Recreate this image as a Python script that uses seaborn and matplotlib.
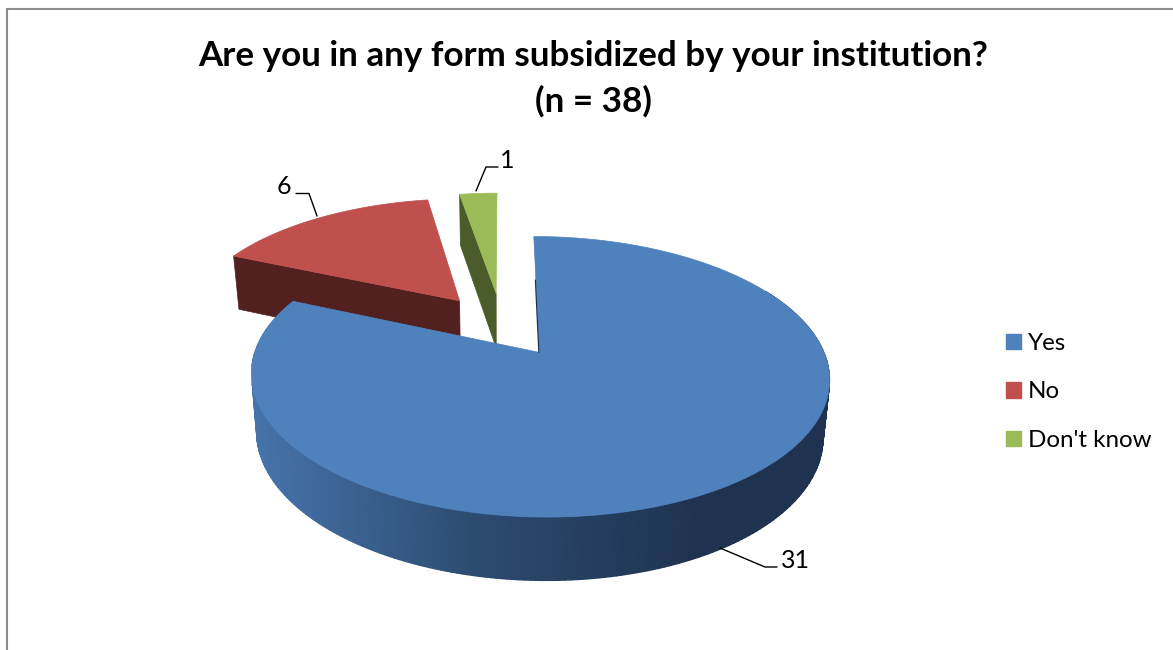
import numpy as np
import seaborn as sns
import matplotlib.pyplot as plt
from matplotlib.patches import Patch

# chart data
labels = ['Yes', 'No', "Don't know"]
values = [31, 6, 1]
explode = [0.24, 0.26, 0.27]
top_colors = ['#4f81bd', '#c0504d', '#9bbb59']
cut_colors = ['#1f3350', '#532020', '#4a5c2a']
title = 'Are you in any form subsidized by your institution?\n(n = 38)'

# projection of the tilted pie onto the page, in pixels
CX, CY = 502, 326
B, A, K = 275, 127, 0.168
A2, H, S = 132, 56, 0.98


def top(x, y):
    d = 1 + K * y
    return CX + B * x / d, CY - A * y / d


def bottom(x, y):
    d = 1 + K * y
    return CX + S * B * x / d, CY + H - A2 * y / d


def wedge_xy(t0, t1, off, n=300):
    '''outline of one wedge, angles are clockwise from 12 o'clock'''
    ts = np.linspace(t0, t1, n)
    dx, dy = off * np.sin((t0 + t1) / 2), off * np.cos((t0 + t1) / 2)
    return ts, dx, dy, dx + np.sin(ts), dy + np.cos(ts)


sns.set_theme(style='white')
plt.rcParams['font.family'] = ['Lato', 'DejaVu Sans']

fig = plt.figure(figsize=(11.73, 6.5), dpi=100)
ax = fig.add_axes([0, 0, 1, 1])
ax.set_xlim(0, 1173)
ax.set_ylim(650, 0)
ax.axis('off')

ax.plot([7, 7, 1173], [650, 9, 9], color='#8c8c8c', lw=1.5,
        solid_joinstyle='miter')

ends = np.cumsum(values) / np.sum(values) * 2 * np.pi
starts = np.r_[0, ends[:-1]]
wall_cmap = sns.blend_palette(['#4673aa', '#2c4b70', '#1f3350'], as_cmap=True)

# draw back wedges first, blue goes over them
for i in [1, 2, 0]:
    ts, dx, dy, xs, ys = wedge_xy(starts[i], ends[i], explode[i])
    ex, ey = np.linspace(dx, xs[0], 30), np.linspace(dy, ys[0], 30)
    if i > 0:
        # cut face on the left side of the wedge
        tx, ty = top(ex, ey)
        bx, by = bottom(ex, ey)
        ax.fill(np.r_[tx, bx[::-1]], np.r_[ty, by[::-1]],
                color=cut_colors[i], lw=0.5)
    else:
        # outer wall with the shading going dark to the right
        tx, ty = top(xs, ys)
        bx, by = bottom(xs, ys)
        front = (tx > 252) & (ys < 0.3)
        shade = np.clip((tx[front] - 255) / (700 - 255), 0, 1)
        ax.pcolormesh(np.vstack([tx[front], bx[front]]),
                      np.vstack([ty[front], by[front]]),
                      np.vstack([shade, shade]), cmap=wall_cmap,
                      shading='gouraud', vmin=0, vmax=1)
        # thin dark sliver of the cut face next to the white gap
        sx, sy = top(ex[:18], ey[:18])
        ax.plot(sx - 0.5, sy, color=cut_colors[0], lw=0.9)
    px, py = top(np.r_[dx, xs], np.r_[dy, ys])
    ax.fill(px, py, color=top_colors[i], lw=0.5)

ax.text(593, 79, title, ha='center', va='center', fontsize=25.2, weight='bold',
        color='black', linespacing=1.47)

# leader lines and value labels
ax.plot([720, 765, 777], [548, 567, 567], color='black', lw=1)
ax.plot([296, 309, 317], [193.5, 193.5, 216], color='black', lw=1)
ax.plot([498, 486, 476], [167, 167, 191], color='black', lw=1)
ax.text(781, 560, str(values[0]), va='center', fontsize=18, color='black')
ax.text(284, 187, str(values[1]), ha='center', va='center', fontsize=18,
        color='black')
ax.text(507, 160, str(values[2]), ha='center', va='center', fontsize=18,
        color='black')

handles = [Patch(color=c, label=l) for c, l in zip(top_colors, labels)]
ax.legend(handles=handles, loc='center left', bbox_to_anchor=(1006, 392),
          bbox_transform=ax.transData, frameon=False, fontsize=17.4,
          handlelength=0.62, handleheight=0.62, handletextpad=0.3,
          labelspacing=1.14, borderpad=0, borderaxespad=0, labelcolor='black')

fig.savefig('out.png', dpi=100)
